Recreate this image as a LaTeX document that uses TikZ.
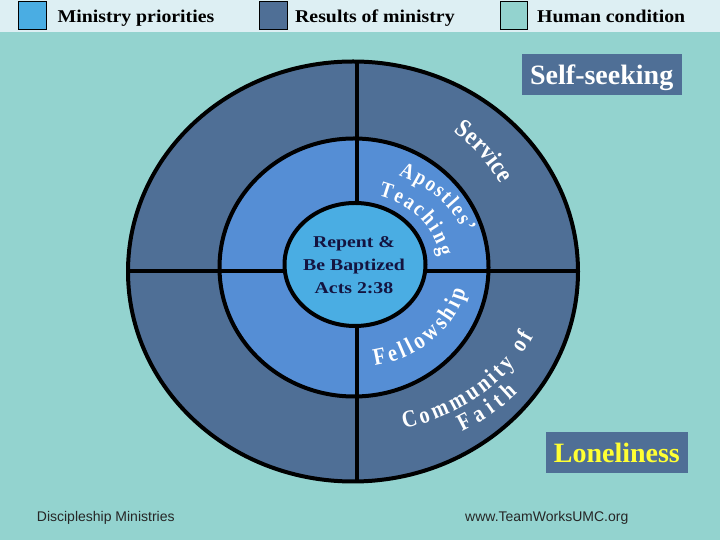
\documentclass[tikz,border=0pt]{standalone}
\usepackage{fontspec}
\setmainfont{Liberation Serif}
\setsansfont{Liberation Sans}
\newfontfamily\widefont[FakeStretch=1.1]{Liberation Serif}
\newfontfamily\corefont[FakeStretch=1.2]{Liberation Serif}
\newfontfamily\ringfam[FakeStretch=0.85]{Liberation Serif}
\usetikzlibrary{decorations.text}
\definecolor{bgcyan}{HTML}{93D3CF}
\definecolor{barlight}{HTML}{DDEFF3}
\definecolor{ringdark}{HTML}{4F6F96}
\definecolor{ringmid}{HTML}{558ED5}
\definecolor{ringcore}{HTML}{4AADE3}
\definecolor{navytext}{HTML}{141440}
\definecolor{lonely}{HTML}{FFFF33}
\newcommand\ringhuge{\ringfam\bfseries\fontsize{26}{26}\selectfont\color{white}}
\newcommand\ringbig{\ringfam\bfseries\fontsize{24}{24}\selectfont\color{white}}
\newcommand\ringsmall{\ringfam\bfseries\fontsize{22}{22}\selectfont\color{white}}
\begin{document}
\begin{tikzpicture}[x=1pt,y=1pt,
  ringline/.style={line width=4pt, draw=black},
  legendbox/.style={draw=black, line width=0.8pt, minimum width=27.6pt, minimum height=28.3pt, inner sep=0pt, anchor=south west},
  legendtext/.style={anchor=base west, inner sep=0pt, font=\widefont\bfseries\fontsize{18}{18}\selectfont},
  labelbox/.style={fill=ringdark, inner xsep=0pt, inner ysep=4pt, text height=26.3pt, text depth=6.7pt, font=\bfseries\fontsize{28}{28}\selectfont},
  foot/.style={anchor=base west, inner sep=0pt, font=\sffamily\fontsize{14}{14}\selectfont, text=black!85},
  arctext/.style={decorate, decoration={text along path, text align={fit to path}, text={#1}}},
]
\useasboundingbox (0,0) rectangle (720,540);
\fill[bgcyan] (0,0) rectangle (720,540);
\fill[barlight] (0,507.7) rectangle (720,540);

% legend
\node[legendbox, fill=ringcore] (k1) at (18.4,510) {};
\node[legendbox, fill=ringdark] (k2) at (259,510) {};
\node[legendbox, fill=bgcyan] (k3) at (499.5,510) {};
\node[legendtext] (t1) at (57.4,517.3) {Ministry priorities};
\node[legendtext] (t2) at (295,517.3) {Results of ministry};
\node[legendtext] (t3) at (537,517.3) {Human condition};

% rings
\fill[ringdark] (353,268.5) ellipse [x radius=225pt, y radius=210pt];
\fill[ringmid] (354,272.5) ellipse [x radius=134.5pt, y radius=129pt];
\begin{scope}
  \clip (353,268.5) ellipse [x radius=225pt, y radius=210pt];
  \draw[ringline] (357,0) -- (357,540);
  \draw[ringline] (0,269) -- (720,269);
\end{scope}
\draw[ringline] (353,268.5) ellipse [x radius=225pt, y radius=210pt];
\draw[ringline] (354,272.5) ellipse [x radius=134.5pt, y radius=129pt];
\filldraw[ringline, fill=ringcore] (355,275.5) ellipse [x radius=70.5pt, y radius=61.5pt];

\node[align=center, text=navytext, inner sep=0pt, font=\corefont\bfseries\fontsize{16.5}{23}\selectfont] (core) at (354,274.5) {Repent \&\\Be Baptized\\Acts 2:38};

% curved labels
\path[arctext={|\ringhuge|Service}] (355,272) ++(54:168pt) arc[start angle=54, end angle=30, radius=168pt];
\path[arctext={|\ringsmall|Apostles’}] (355,272) ++(68:116pt and 100pt) arc[start angle=68, end angle=20.6, x radius=116pt, y radius=100pt];
\path[arctext={|\ringsmall|Teaching}] (355,272) ++(74.1:86pt and 75pt) arc[start angle=74.1, end angle=9.1, x radius=86pt, y radius=75pt];
\path[arctext={|\ringbig|Fellowship}] (355,272) ++(-80:114pt and 99pt) arc[start angle=-80, end angle=-13.3, x radius=114pt, y radius=99pt];
\path[arctext={|\ringbig|Community of}] (355,272) ++(-75.5:196pt and 166pt) arc[start angle=-75.5, end angle=-24.4, x radius=196pt, y radius=166pt];
\path[arctext={|\ringbig|Faith}] (355,272) ++(-60.6:218pt and 188pt) arc[start angle=-60.6, end angle=-41.6, x radius=218pt, y radius=188pt];

% condition boxes
\node[labelbox, minimum width=160pt, text=white] (self) at (601.7,465.5) {Self-seeking};
\node[labelbox, minimum width=141.7pt, text=lonely] (lone) at (616.85,87.2) {Loneliness};

% footer
\node[foot] (f1) at (36.7,18.3) {Discipleship Ministries};
\node[foot] (f2) at (465,18.3) {www.TeamWorksUMC.org};
\end{tikzpicture}
\end{document}
